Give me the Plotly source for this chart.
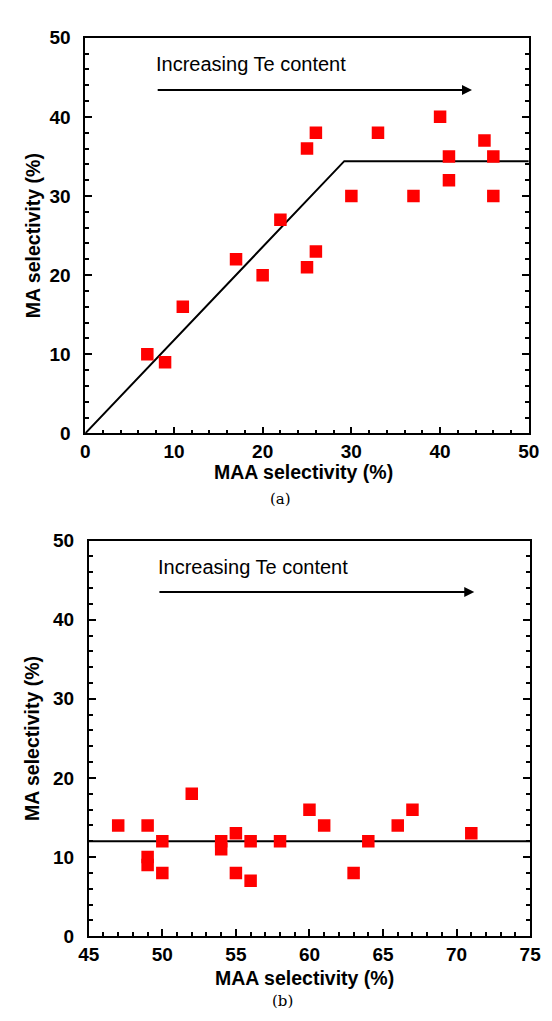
import plotly.graph_objects as go

# ---- data ----
maa_a = [7, 9, 11, 17, 20, 22, 25, 26, 25, 26, 30, 33, 37, 40, 41, 41, 45, 46, 46]
ma_a = [10, 9, 16, 22, 20, 27, 21, 23, 36, 38, 30, 38, 30, 40, 35, 32, 37, 35, 30]
fit_a_x = [0, 29.2, 50]
fit_a_y = [0, 34.4, 34.4]

maa_b = [47, 49, 49, 49, 50, 50, 52, 54, 54, 55, 55, 56, 56, 58, 60, 61, 63, 64, 66, 67, 71]
ma_b = [14, 14, 10, 9, 12, 8, 18, 12, 11, 13, 8, 12, 7, 12, 16, 14, 8, 12, 14, 16, 13]
fit_b_x = [45, 75]
fit_b_y = [12, 12]

W, H = 552, 1021
def px(x):
    return x / W
def py(y):
    return 1 - y / H

fig = go.Figure()
mk = dict(symbol="square", size=12.5, color="#ff0000", line=dict(width=0))
fig.add_trace(go.Scatter(x=fit_a_x, y=fit_a_y, mode="lines", line=dict(color="black", width=2),
                         xaxis="x", yaxis="y", showlegend=False))
fig.add_trace(go.Scatter(x=maa_a, y=ma_a, mode="markers", marker=mk, xaxis="x", yaxis="y", showlegend=False))
fig.add_trace(go.Scatter(x=fit_b_x, y=fit_b_y, mode="lines", line=dict(color="black", width=2),
                         xaxis="x2", yaxis="y2", showlegend=False))
fig.add_trace(go.Scatter(x=maa_b, y=ma_b, mode="markers", marker=mk, xaxis="x2", yaxis="y2", showlegend=False))

tickfont = dict(family="Liberation Sans", size=19, color="black", weight="bold")
common = dict(showgrid=False, zeroline=False, showline=True, linecolor="black", linewidth=1.6,
              ticks="inside", ticklen=7, tickwidth=1.5, tickcolor="black", tickfont=tickfont)
ycommon = dict(common, ticklabelstandoff=9)
xcommon = dict(common, ticklabelstandoff=0)

def minor(d):
    return dict(ticks="inside", ticklen=4, dtick=d, tickcolor="black", tickwidth=1.5)

fig.update_layout(
    width=W, height=H, margin=dict(l=0, r=0, t=0, b=0),
    plot_bgcolor="white", paper_bgcolor="white",
    xaxis=dict(domain=[px(77.3), px(539.3)], range=[0, 50], dtick=10, anchor="y", mirror=True,
               minor=minor(2), **xcommon),
    yaxis=dict(domain=[py(432.3), py(28.3)], range=[0, 50], dtick=10, anchor="x", mirror="ticks",
               minor=minor(2), **ycommon),
    xaxis2=dict(domain=[px(81), px(540.7)], range=[45, 75], dtick=5, anchor="y2", mirror=True,
                minor=minor(1), **xcommon),
    yaxis2=dict(domain=[py(945.7), py(541.7)], range=[0, 50], dtick=10, anchor="x2", mirror="ticks",
                minor=minor(2), **ycommon),
)

titlefont = dict(family="Liberation Sans", size=19.5, color="black")
labfont = dict(family="Liberation Sans", size=20, color="black")
ann = []
for (xa, ya, x0, x1, yv, ycen, yt, xtitle_y, xtitle_x, lab, cap_x, cap_y) in [
    ("x", "y", 8.0, 43.6, 43.4, 230.3, 46.7, 472, 305, "(a)", 281, 499),
    ("x2", "y2", 49.7, 71.2, 43.5, 743.7, 46.6, 988, 306, "(b)", 283, 1012),
]:
    ann.append(dict(x=x1, y=yv, ax=x0, ay=yv, xref=xa, yref=ya, axref=xa, ayref=ya, text="",
                    showarrow=True, arrowhead=2, arrowsize=1, arrowwidth=2, arrowcolor="black"))
    ann.append(dict(x=x0, y=yt, xref=xa, yref=ya, text="Increasing Te content", showarrow=False,
                    xanchor="left", yanchor="middle", xshift=-2, font=labfont))
    ann.append(dict(x=px(22.5), y=py(ycen), xref="paper", yref="paper", text="<b>MA selectivity (%)</b>",
                    textangle=-90, showarrow=False, xanchor="center", yanchor="middle", font=titlefont))
    ann.append(dict(x=px(xtitle_x), y=py(xtitle_y), xref="paper", yref="paper", text="<b>MAA selectivity (%)</b>",
                    showarrow=False, xanchor="center", yanchor="middle", font=titlefont))
    ann.append(dict(x=px(cap_x), y=py(cap_y), xref="paper", yref="paper", text=lab,
                    showarrow=False, xanchor="center", yanchor="middle",
                    font=dict(family="DejaVu Serif", size=15, color="black")))
fig.update_layout(annotations=ann)

fig.write_html("out.html")
